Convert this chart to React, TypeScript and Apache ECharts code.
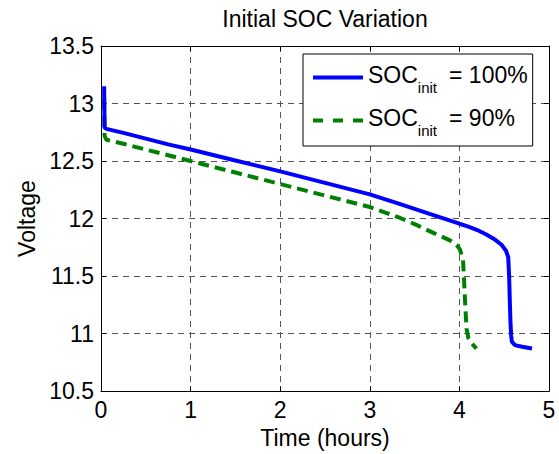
import React, { useEffect, useRef } from 'react';
import * as echarts from 'echarts';

const seriesNames = ['SOC_init = 100%', 'SOC_init = 90%'];

const time100 = [0.035, 0.04, 0.06, 0.25, 0.5, 0.75, 1.0, 1.5, 2.0, 2.5, 3.0, 3.34, 3.71, 4.0, 4.1, 4.2, 4.3, 4.4, 4.47, 4.52, 4.545, 4.555, 4.562, 4.57, 4.578, 4.585, 4.62, 4.7, 4.81];
const volt100 = [13.15, 12.79, 12.78, 12.745, 12.695, 12.645, 12.6, 12.505, 12.41, 12.31, 12.21, 12.125, 12.03, 11.955, 11.93, 11.9, 11.862, 11.815, 11.772, 11.72, 11.665, 11.5, 11.3, 11.1, 10.98, 10.93, 10.9, 10.885, 10.87];

const time90 = [0.035, 0.04, 0.06, 0.25, 0.5, 0.75, 1.0, 1.5, 2.0, 2.5, 3.0, 3.34, 3.52, 3.71, 3.895, 3.97, 4.007, 4.04, 4.05, 4.06, 4.07, 4.08, 4.1, 4.12, 4.19];
const volt90 = [13.04, 12.72, 12.685, 12.65, 12.6, 12.55, 12.5, 12.4, 12.3, 12.2, 12.1, 12.005, 11.945, 11.875, 11.81, 11.77, 11.73, 11.64, 11.5, 11.33, 11.18, 11.04, 10.96, 10.93, 10.87];

const xMin = 0;
const xMax = 5;
const xStep = 1;
const yMin = 10.5;
const yMax = 13.5;
const yStep = 0.5;

const titleText = 'Initial SOC Variation';
const xName = 'Time (hours)';
const yName = 'Voltage';

const FONT = "'Liberation Sans', Arial, Helvetica, sans-serif";
const FS = 23;

export default function App() {
  const ref = useRef<HTMLDivElement>(null);

  useEffect(() => {
    if (!ref.current) return;
    const chart = echarts.init(ref.current, null, { renderer: 'svg' });

    const zip = (xs: number[], ys: number[]) => xs.map((x, i) => [x, ys[i]]);
    const gridStyle = { color: '#555555', type: [6, 5] as any, width: 1 };
    const boxLine = { show: true, onZero: false, lineStyle: { color: '#000', width: 1 } };
    const inTick = { show: true, inside: true, length: 5, lineStyle: { color: '#000', width: 1 } };
    const labelStyle = { fontFamily: FONT, fontSize: FS, color: '#000' };

    const option: any = {
      animation: false,
      backgroundColor: '#ffffff',
      title: {
        text: titleText,
        left: 325,
        top: 7,
        textAlign: 'center',
        padding: 0,
        textStyle: { fontFamily: FONT, fontSize: FS, fontWeight: 'normal', color: '#000' },
      },
      grid: { left: 101, right: 10, top: 46, bottom: 57 },
      legend: {
        orient: 'vertical',
        left: 303,
        top: 54,
        itemWidth: 50,
        itemHeight: 4,
        itemGap: 8,
        padding: [6, 5, 8, 10],
        borderColor: '#000',
        borderWidth: 1,
        borderRadius: 0,
        backgroundColor: '#fff',
        data: [
          { name: seriesNames[0], icon: 'rect' },
          { name: seriesNames[1], icon: 'path://M0,0h10v4h-10z M20,0h10v4h-10z M40,0h10v4h-10z' },
        ],
        formatter: (name: string) => {
          const rest = name.replace('SOC_init', '').trim();
          return '{a|SOC}{b|init}{c|' + rest + '}';
        },
        textStyle: {
          fontFamily: FONT,
          color: '#000',
          rich: {
            a: { fontFamily: FONT, fontSize: FS, lineHeight: 28, verticalAlign: 'top', color: '#000' },
            b: { fontFamily: FONT, fontSize: 15, lineHeight: 15, padding: [20, 0, 0, 0], color: '#000' },
            c: { fontFamily: FONT, fontSize: FS, lineHeight: 28, verticalAlign: 'top', padding: [0, 0, 0, 12], color: '#000' },
          },
        },
      },
      xAxis: [
        {
          type: 'value',
          min: xMin,
          max: xMax,
          interval: xStep,
          name: xName,
          nameLocation: 'middle',
          nameGap: 31,
          nameTextStyle: { fontFamily: FONT, fontSize: FS, color: '#000' },
          axisLine: boxLine,
          axisTick: inTick,
          axisLabel: { ...labelStyle, margin: 7 },
          splitLine: { show: true, lineStyle: gridStyle },
        },
        {
          type: 'value',
          position: 'top',
          min: xMin,
          max: xMax,
          interval: xStep,
          axisLine: boxLine,
          axisTick: inTick,
          axisLabel: { show: false },
          splitLine: { show: false },
        },
      ],
      yAxis: [
        {
          type: 'value',
          min: yMin,
          max: yMax,
          interval: yStep,
          name: yName,
          nameLocation: 'middle',
          nameGap: 63,
          nameTextStyle: { fontFamily: FONT, fontSize: FS, color: '#000' },
          axisLine: boxLine,
          axisTick: inTick,
          axisLabel: { ...labelStyle, margin: 7 },
          splitLine: { show: true, lineStyle: gridStyle },
        },
        {
          type: 'value',
          position: 'right',
          min: yMin,
          max: yMax,
          interval: yStep,
          axisLine: boxLine,
          axisTick: inTick,
          axisLabel: { show: false },
          splitLine: { show: false },
        },
      ],
      series: [
        {
          name: seriesNames[0],
          type: 'line',
          xAxisIndex: 0,
          yAxisIndex: 0,
          symbol: 'none',
          showSymbol: false,
          color: '#0000ff',
          lineStyle: { color: '#0000ff', width: 4 },
          data: zip(time100, volt100),
          z: 3,
        },
        {
          name: seriesNames[1],
          type: 'line',
          xAxisIndex: 0,
          yAxisIndex: 0,
          symbol: 'none',
          showSymbol: false,
          color: '#008000',
          lineStyle: { color: '#008000', width: 4, type: [11, 6] },
          data: zip(time90, volt90),
          z: 2,
        },
      ],
    };

    chart.setOption(option);
    return () => chart.dispose();
  }, []);

  return (
    <div
      ref={ref}
      style={{ position: 'fixed', left: 0, top: 0, width: 559, height: 454, background: '#fff' }}
    />
  );
}
